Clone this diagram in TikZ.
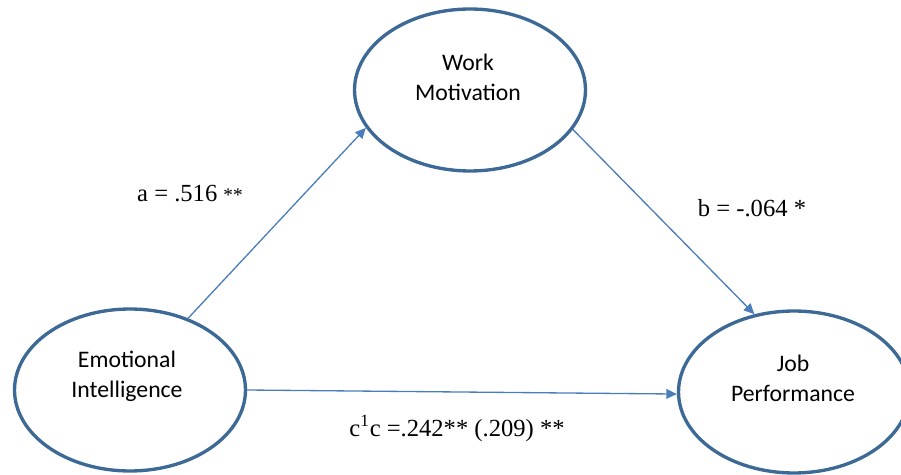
\documentclass[tikz,border=0pt]{standalone}
\usepackage{fontspec}
\setmainfont{Liberation Serif}
\setsansfont{Carlito}
\usetikzlibrary{arrows.meta,shapes.geometric}
\definecolor{ellblue}{RGB}{60,105,150}
\definecolor{arrblue}{RGB}{74,126,187}

\begin{document}
\begin{tikzpicture}[x=0.02cm, y=-0.02cm,
    var/.style={draw=ellblue, ellipse, line width=1.9pt, minimum width=4.62cm, minimum height=3.24cm, inner sep=0pt},
    txt/.style={align=center, font=\sffamily\fontsize{13.5}{17}\selectfont},
    arr/.style={-{Triangle[length=6pt, width=5.5pt]}, draw=arrblue, line width=0.75pt},
    lbl/.style={anchor=base, font=\fontsize{14}{17}\selectfont}
]
\clip (0,0) rectangle (901,475);
\node[var] (ei) at (130,390) {};
\node[var] (wm) at (470,90) {};
\node[var] (jp) at (794,392) {};
\node[txt] (eitxt) at (127,376) {Emotional\\Intelligence};
\node[txt] (wmtxt) at (468,77) {Work\\Motivation};
\node[txt] (jptxt) at (793,378) {Job\\Performance};

\draw[arr] (ei.51) -- (wm.200);
\draw[arr] (wm.-21) -- (jp.117);
\draw[arr] (ei.0) -- (jp.181);

\node[lbl] (alab) at (190,202) {a = .516 {\fontsize{11}{13}\selectfont**}};
\node[lbl] (blab) at (752,217) {b = -.064 *};
\node[lbl] (clab) at (457,436) {c\textsuperscript{1}c =.242** (.209) **};
\end{tikzpicture}
\end{document}
